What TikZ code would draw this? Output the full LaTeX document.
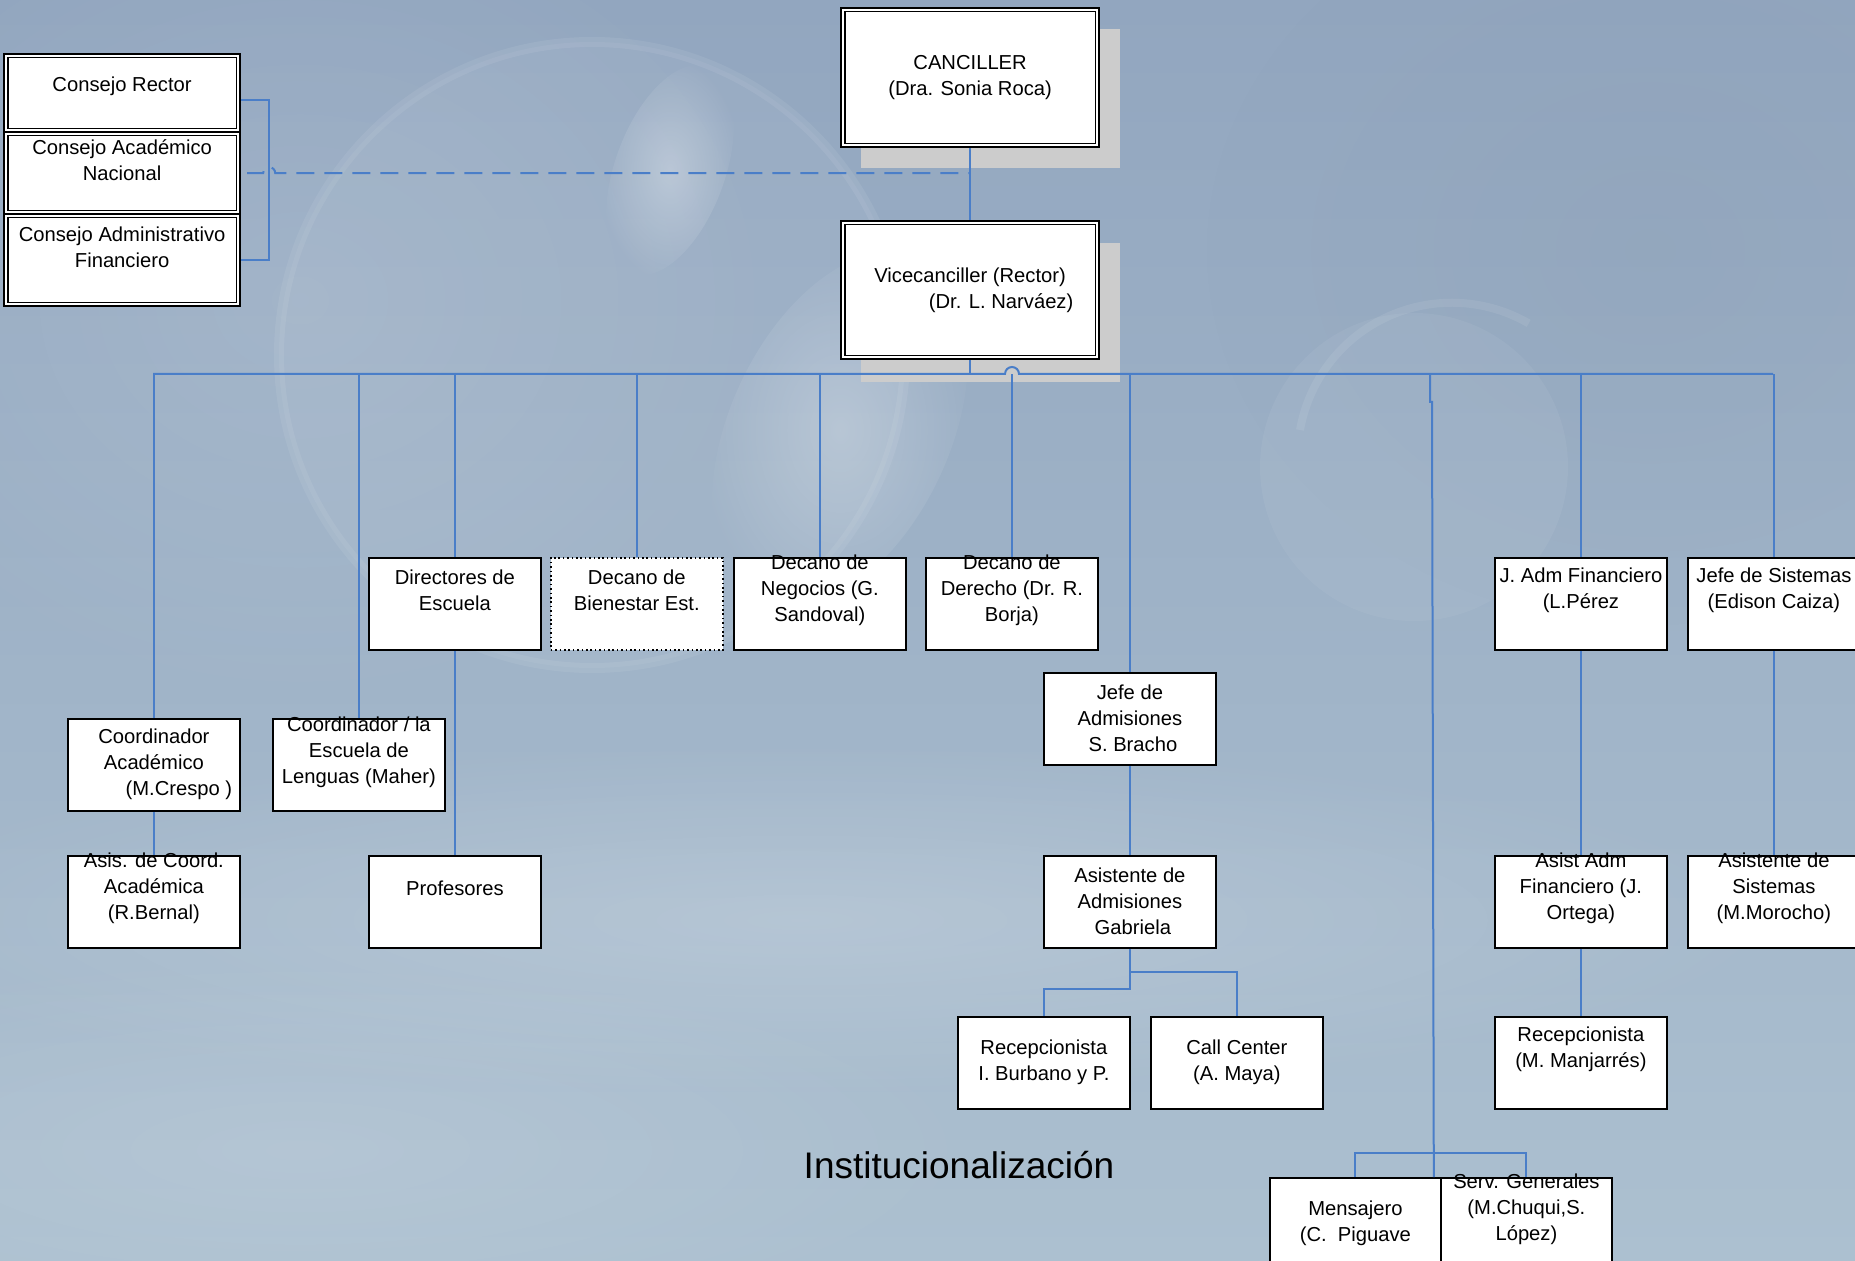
\documentclass[tikz,border=0pt]{standalone}
\usepackage{fontspec}
\setmainfont{Liberation Sans}
\usetikzlibrary{calc,fadings}
\tikzfading[name=softfade, inner color=transparent!0, outer color=transparent!100]
\definecolor{linkblue}{RGB}{74,126,200}
\definecolor{shadowgray}{RGB}{204,204,204}
\definecolor{bgA}{RGB}{146,166,191}
\definecolor{bgB}{RGB}{172,192,208}
\newcommand\boxtext[3]{\node[txt] (#1-t) at ($(#1.north)+(0,#2)$) {#3};}
\begin{document}
\begin{tikzpicture}[x=0.5pt,y=-0.5pt,
  box/.style={draw=black,line width=0.9pt,fill=white,rectangle,inner sep=0pt,
    minimum width=86pt,minimum height=46pt,anchor=north west},
  dbox/.style={box,line width=1.1pt},
  dotbox/.style={box,line width=0.8pt,dash pattern=on 0.8pt off 1.4pt},
  txt/.style={align=center,inner sep=0pt,font=\fontsize{10.1}{13}\selectfont},
  link/.style={draw=linkblue,line width=1pt},
  shadowbox/.style={fill=shadowgray,draw=none}]
\useasboundingbox (0,0) rectangle (1855,1261);
\clip (0,0) rectangle (1855,1261);
% ---------- background ----------
\shade[top color=bgA,bottom color=bgB] (0,0) rectangle (1855,1261);
\fill[white,opacity=0.10,path fading=softfade] (300,300) ellipse (500 and 420);
\fill[bgA!80!black,opacity=0.10,path fading=softfade] (1650,250) ellipse (450 and 380);
\fill[white,opacity=0.05] (592,355) circle (313);
\draw[white,opacity=0.07,line width=5pt] (592,355) circle (313);
\fill[white,opacity=0.30,path fading=softfade,rotate around={-20:(670,170)}] (670,170) ellipse (55 and 110);
\fill[white,opacity=0.25,path fading=softfade,rotate around={-25:(840,430)}] (840,430) ellipse (110 and 190);
\fill[white,opacity=0.05] (1414,467) circle (154);
\draw[white,opacity=0.08,line width=4pt] (1300,430) arc[start angle=190,end angle=300,radius=154];
\fill[white,opacity=0.18,path fading=softfade] (800,920) ellipse (1000 and 180);
\fill[white,opacity=0.12,path fading=softfade] (300,1150) ellipse (700 and 200);
% ---------- shadows ----------
\fill[shadowbox] (861,29) rectangle (1120,168);
\fill[shadowbox] (861,243) rectangle (1120,382);
% ---------- boxes ----------
\node[dbox,minimum width=118pt,minimum height=39pt] (cr) at (3,53) {};
\node[dbox,minimum width=118pt,minimum height=41pt] (ca) at (3,131) {};
\node[dbox,minimum width=118pt,minimum height=46pt] (cf) at (3,213) {};
\node[dbox,minimum width=129pt,minimum height=69.5pt] (canc) at (840,7) {};
\node[dbox,minimum width=129pt,minimum height=69pt] (vice) at (840,220) {};
\foreach \n in {cr,ca,cf,canc,vice}
  \draw[line width=0.7pt] ([shift={(2.4pt,-2.4pt)}]\n.north west) rectangle ([shift={(-2.4pt,2.4pt)}]\n.south east);
\node[box] (dir) at (368,557) {};
\node[dotbox] (bien) at (550,557) {};
\node[box] (neg) at (733,557) {};
\node[box] (der) at (925,557) {};
\node[box] (jfin) at (1494,557) {};
\node[box] (jsis) at (1687,557) {};
\node[box] (ccoord) at (67,718) {};
\node[box] (clen) at (272,718) {};
\node[box] (jadm) at (1043,672) {};
\node[box] (asis) at (67,855) {};
\node[box] (prof) at (368,855) {};
\node[box] (asad) at (1043,855) {};
\node[box] (asfin) at (1494,855) {};
\node[box] (assis) at (1687,855) {};
\node[box] (recb) at (957,1016) {};
\node[box] (callc) at (1150,1016) {};
\node[box] (recm) at (1494,1016) {};
\node[box,minimum width=85.5pt] (mens) at (1269,1177) {};
\node[box,minimum width=85.5pt] (serv) at (1440,1177) {};
% ---------- connectors ----------
\draw[link] (canc.south) -- (vice.north);
\draw[link,dash pattern=on 9pt off 5pt] ([xshift=3pt]ca.east) -- ++(16,0)
   arc[start angle=180,end angle=360,radius=6] -- (canc.south |- ca.east);
\draw[link] ([yshift=-3.5pt]cr.east) -- ++(28,0) |- (cf.east);
\coordinate (busL) at (153,374);
\coordinate (busR) at (1773,374);
\coordinate (mjTop) at (1430,374);
\draw[link] (vice.south) -- (vice.south |- busL);
\draw[link] (busL) -- (1005,374) arc[start angle=180,end angle=360,radius=7] -- (busR);
\foreach \n in {ccoord,clen,dir,bien,neg,der,jadm,jfin,jsis}
  \draw[link] (\n.north) -- (\n.north |- busL);
\draw[link] (mjTop) -- ++(0,28) -- ++(2,0) -- ([xshift=-4pt]mens.north east);
\draw[link] (mens.north) -- ++(0,-24) -| (serv.north);
\draw[link] (ccoord.south) -- (asis.north);
\draw[link] (dir.south) -- (prof.north);
\draw[link] (jadm.south) -- (asad.north);
\draw[link] (asad.south) -- ++(0,23) -| (callc.north);
\draw[link] (asad.south) -- ++(0,40) -| (recb.north);
\draw[link] (jfin.south) -- (asfin.north);
\draw[link] (asfin.south) -- (recm.north);
\draw[link] (jsis.south) -- (assis.north);
% ---------- texts ----------
\boxtext{cr}{33}{Consejo Rector}
\boxtext{ca}{29}{Consejo Académico\\Nacional}
\boxtext{cf}{34}{Consejo Administrativo\\Financiero}
\boxtext{canc}{71}{CANCILLER\\(Dra. Sonia Roca)}
\boxtext{vice}{70}{Vicecanciller (Rector)\\\hspace*{31pt}(Dr. L. Narváez)}
\boxtext{dir}{33}{Directores de\\Escuela}
\boxtext{bien}{33}{Decano de\\Bienestar Est.}
\boxtext{neg}{33}{Decano de\\Negocios (G.\\Sandoval)}
\boxtext{der}{33}{Decano de\\Derecho (Dr. R.\\Borja)}
\boxtext{jfin}{33}{J. Adm Financiero\\(L.Pérez}
\boxtext{jsis}{33}{Jefe de Sistemas\\(Edison Caiza)}
\boxtext{ccoord}{46}{Coordinador\\Académico\\\hspace*{25pt}(M.Crespo )}
\boxtext{clen}{34}{Coordinador / la\\Escuela de\\Lenguas (Maher)}
\boxtext{jadm}{46}{Jefe de\\Admisiones\\\hspace*{3pt}S. Bracho}
\boxtext{asis}{33}{Asis. de Coord.\\Académica\\(R.Bernal)}
\boxtext{prof}{33}{Profesores}
\boxtext{asad}{46}{Asistente de\\Admisiones\\\hspace*{3pt}Gabriela}
\boxtext{asfin}{33}{Asist Adm\\Financiero (J.\\Ortega)}
\boxtext{assis}{33}{Asistente de\\Sistemas\\(M.Morocho)}
\boxtext{recb}{46}{Recepcionista\\I. Burbano y P.}
\boxtext{callc}{46}{Call Center\\(A. Maya)}
\boxtext{recm}{33}{Recepcionista\\(M. Manjarrés)}
\boxtext{mens}{46}{Mensajero\\(C.\ \ Piguave}
\boxtext{serv}{32}{Serv. Generales\\(M.Chuqui,S.\\López)}
\node[inner sep=0pt,font=\fontsize{18.5}{22}\selectfont] (title) at (959,1165) {Institucionalización};
\end{tikzpicture}
\end{document}
